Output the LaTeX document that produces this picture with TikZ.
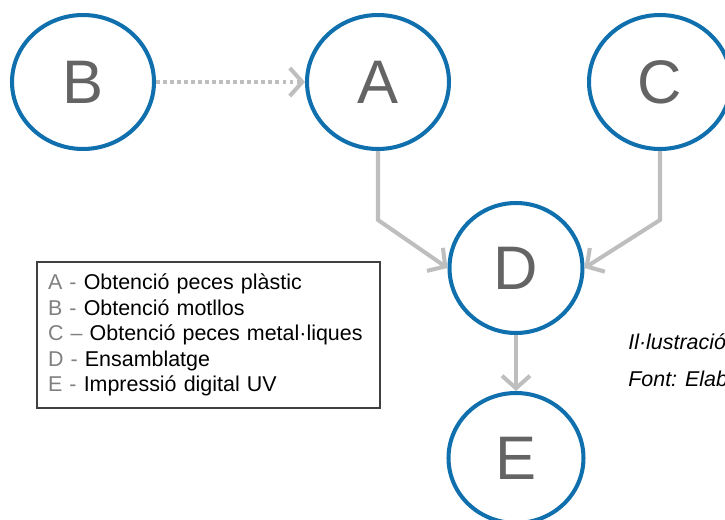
\documentclass[tikz,border=0pt]{standalone}
\usepackage{fontspec}
\setmainfont{Liberation Sans}
\usetikzlibrary{arrows.meta,shapes.geometric}
\definecolor{stepblue}{RGB}{16,112,174}
\definecolor{linkgray}{RGB}{190,190,190}
\definecolor{lettergray}{RGB}{100,100,100}
\definecolor{keygray}{RGB}{128,128,128}

\begin{document}
\begin{tikzpicture}[x=0.02cm,y=-0.02cm]
\tikzset{
  stepnode/.style={ellipse,draw=stepblue,line width=2.3pt,minimum width=2.84cm,minimum height=2.68cm,inner sep=0pt,text=lettergray,font=\fontsize{35}{38}\selectfont},
  link/.style={-{Straight Barb[length=2.5mm,width=5.6mm]},draw=linkgray,line width=2.3pt},
  dotlink/.style={link,dash pattern=on 2.2pt off 1.8pt},
  legendbox/.style={draw=black!75,line width=0.8pt,rectangle,minimum width=6.86cm,minimum height=2.92cm,inner xsep=0.22cm,text width=6.42cm,align=left,font=\fontsize{12.2}{14.6}\selectfont},
  caption/.style={font=\fontsize{12.2}{14}\selectfont\itshape,inner sep=0pt}
}
\useasboundingbox (0,0) rectangle (725,520);
\clip (0,0) rectangle (725,520);
\node[stepnode] (n_B) at (83,82) {B};
\node[stepnode] (n_A) at (378,82) {A};
\node[stepnode] (n_C) at (660,82) {C};
\node[stepnode,minimum width=2.66cm,minimum height=2.6cm] (n_D) at (516,268) {D};
\node[stepnode,minimum width=2.7cm,minimum height=2.6cm] (n_E) at (516,458) {E};
\coordinate (bend_A) at (378,220);
\coordinate (bend_C) at (660,220);
\draw[dotlink] (n_B) -- (n_A);
\draw[link] (n_A.south) -- (bend_A) -- (n_D.west);
\draw[link] (n_C.south) -- (bend_C) -- (n_D.east);
\draw[link] (n_D.south) -- (n_E.north);
\node[legendbox] (legend) at (208.5,335) {%
  \textcolor{keygray}{A -} Obtenció peces plàstic\\
  \textcolor{keygray}{B -} Obtenció motllos\\
  \textcolor{keygray}{C –} Obtenció peces metal·liques\\
  \textcolor{keygray}{D -} Ensamblatge\\
  \textcolor{keygray}{E -} Impressió digital UV};
\node[caption,anchor=base west] (cap_1) at (628,350) {Il·lustració};
\node[caption,anchor=base west] (cap_2) at (628,387) {Font: Elaboració pròpia};
\end{tikzpicture}
\end{document}
